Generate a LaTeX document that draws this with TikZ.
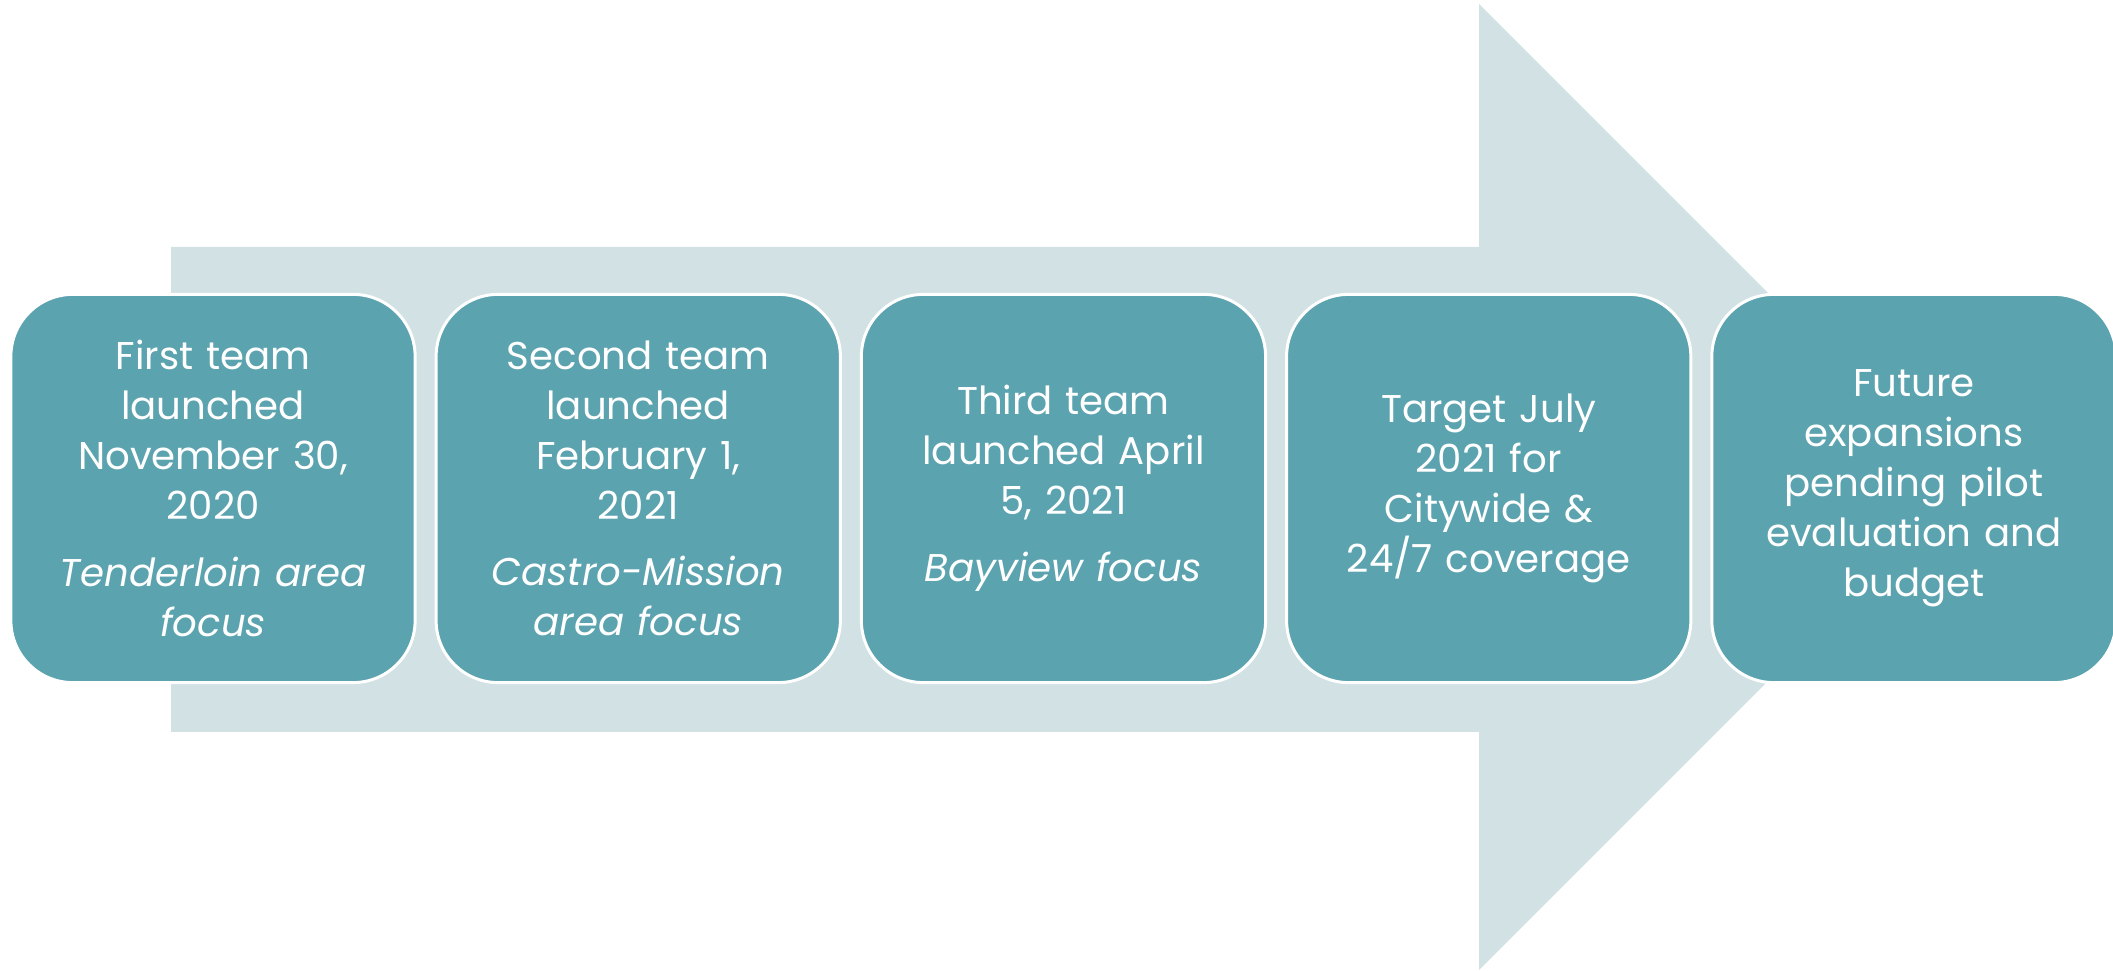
\documentclass[tikz,border=0pt]{standalone}
\usepackage{fontspec}
\setmainfont{Poppins}
\usetikzlibrary{positioning}
\definecolor{boxfill}{RGB}{91,163,175}
\definecolor{arrowfill}{RGB}{210,225,228}

\begin{document}
\begin{tikzpicture}[x=0.01cm, y=-0.01cm, node distance=0.18cm,
    stage/.style={draw=white, line width=0.85pt, fill=boxfill, rounded corners=0.62cm,
      minimum width=4.04cm, minimum height=3.88cm, text width=3.8cm, align=center,
      text=white, font=\fontsize{11}{14.2}\selectfont}]
  \useasboundingbox (0,0) rectangle (2113,971);
  % big arrow behind the stages
  \fill[arrowfill] (171,247) -- (1479,247) -- (1479,4) -- (1962,487)
    -- (1479,970) -- (1479,732) -- (171,732) -- cycle;
  \node[stage] (first) at (213,488.5) {First team\\ launched\\ November 30,\\ 2020\\[4.8pt]
    {\itshape Tenderloin area\\ focus}};
  \node[stage, right=of first] (second) {Second team\\ launched\\ February 1,\\ 2021\\[4.8pt]
    {\itshape Castro-Mission\\ area focus}};
  \node[stage, right=of second] (third) {Third team\\ launched April\\ 5, 2021\\[4.8pt]
    {\itshape Bayview focus}};
  \node[stage, right=of third] (target) {Target July\\ 2021 for\\ Citywide \&\\ 24/7 coverage};
  \node[stage, right=of target] (future) {Future\\ expansions\\ pending pilot\\ evaluation and\\ budget};
\end{tikzpicture}
\end{document}
